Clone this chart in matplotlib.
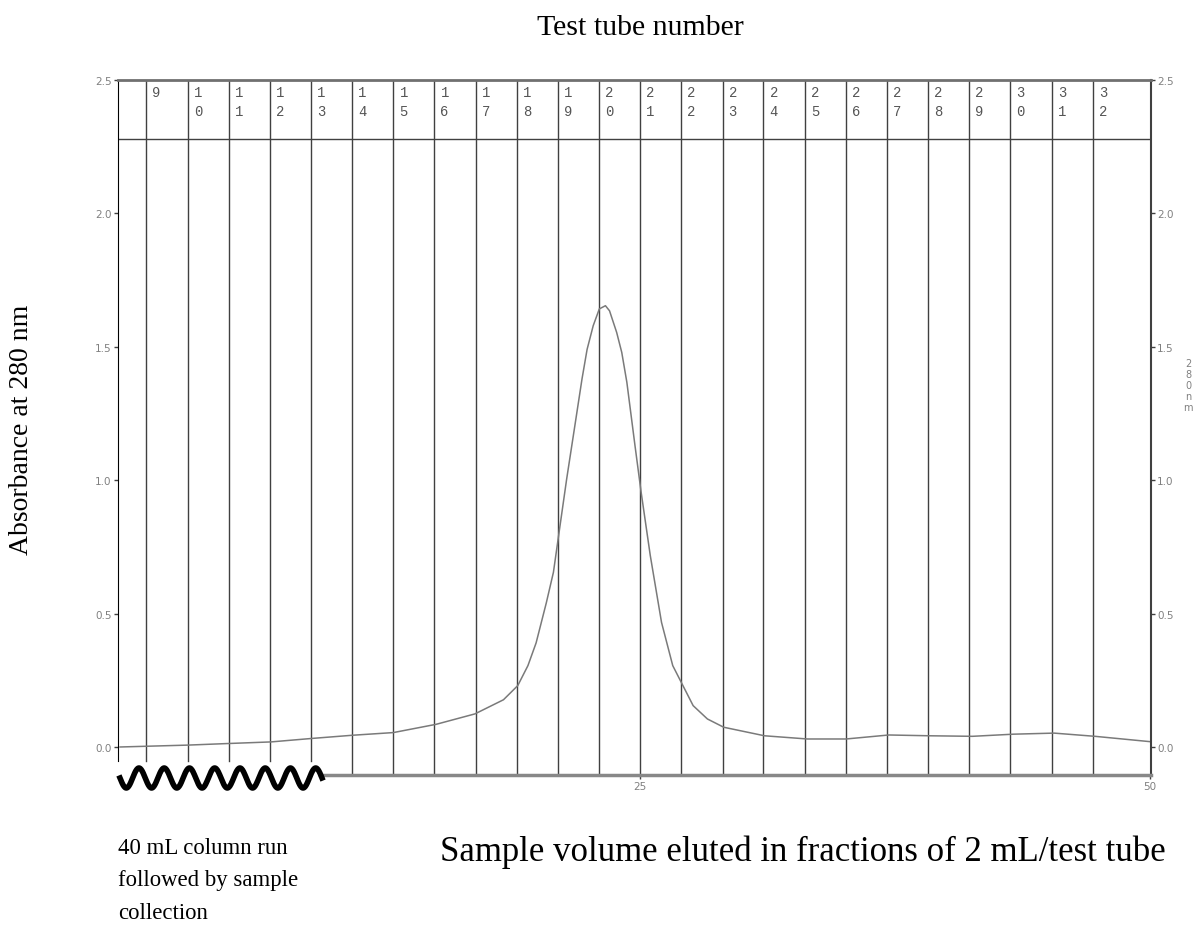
import numpy as np
import matplotlib
matplotlib.use("Agg")
from matplotlib import pyplot as plt

# elution volume (mL) and absorbance at 280 nm
vol = [-0.5, 2.8, 4.8, 6.9, 8.9, 10.9, 12.9, 15.0, 16.9, 18.3, 19.0, 19.5, 19.9,
       20.4, 20.75, 21.05, 21.4, 21.8, 22.15, 22.4, 22.7, 23.0, 23.3, 23.5,
       23.85, 24.1, 24.35, 24.75, 25.05, 25.5, 26.05, 26.6, 27.1, 27.6, 28.3,
       29.1, 31.1, 33.2, 35.1, 37.2, 39.2, 41.3, 43.3, 45.3, 47.3, 50.0]
a280 = [0.0, 0.007, 0.013, 0.019, 0.032, 0.044, 0.054, 0.085, 0.124, 0.177,
        0.23, 0.305, 0.39, 0.54, 0.655, 0.817, 1.005, 1.204, 1.379, 1.49, 1.579,
        1.642, 1.654, 1.635, 1.554, 1.479, 1.367, 1.129, 0.955, 0.717, 0.467,
        0.305, 0.23, 0.155, 0.105, 0.074, 0.042, 0.030, 0.030, 0.045, 0.042,
        0.040, 0.048, 0.052, 0.040, 0.020]

# start volume of each test tube, and tube numbers
tube_start = [0.79, 2.81, 4.83, 6.84, 8.86, 10.88, 12.90, 14.91, 16.93, 18.95,
              20.97, 22.98, 25.00, 27.02, 29.04, 31.05, 33.07, 35.09, 37.11,
              39.12, 41.14, 43.16, 45.18, 47.19]
tube_num = list(range(9, 33))

serif = "Liberation Serif"
grey = "#404040"

fig = plt.figure(figsize=(11.94, 9.28), dpi=100)
ax = fig.add_axes([118/1194, 1-776/928, (1151-118)/1194, (776-81)/928])
ax.set_xlim(-0.6, 50.05)
ax.set_ylim(-0.105, 2.5)

# fraction dividers
for x in tube_start:
    lo = -0.054 if x < 9.3 else -0.105
    ax.plot([x, x], [lo, 2.5], color=grey, lw=1, zorder=1)
ax.axhline(2.279, color=grey, lw=1, zorder=1)

for x, n in zip(tube_start, tube_num):
    ax.text(x + 0.3, 2.482, "\n".join(str(n)), fontsize=10, family="Liberation Mono",
            color="#555555", va="top", ha="left", linespacing=1.45)

ax.plot(vol, a280, color="#7a7a7a", lw=1.1, zorder=2)

ax.set_yticks([0.0, 0.5, 1.0, 1.5, 2.0, 2.5])
ax.set_yticklabels(["0.0", "0.5", "1.0", "1.5", "2.0", "2.5"])
ax.set_xticks([25, 50])
ax.tick_params(axis="both", labelsize=7.5, labelcolor="#808080", length=3, width=1,
               color=grey, pad=1.5)
ax.tick_params(axis="y", right=True, labelright=True)

ax.spines["top"].set_color("#707070")
ax.spines["top"].set_linewidth(2)
ax.spines["left"].set_color("black")
ax.spines["left"].set_bounds(-0.054, 2.5)
ax.spines["right"].set_color(grey)
ax.spines["right"].set_linewidth(1.5)
ax.spines["bottom"].set_bounds(9.3, 50.05)
ax.spines["bottom"].set_color("#888888")
ax.spines["bottom"].set_linewidth(2.5)

# squiggle standing in for the 40 mL column run
wx = np.linspace(120, 322, 400)
wy = 779 + 10 * np.sin(2 * np.pi * (wx - 120) / 25.25)
fig.add_artist(plt.Line2D(wx / 1194, 1 - wy / 928, color="black", lw=4,
                          transform=fig.transFigure))

fig.text(1188/1194, 1-386/928, "2\n8\n0\nn\nm", fontsize=7, color="#808080",
         ha="center", va="center", linespacing=1.15)

fig.text(640/1194, 1-28/928, "Test tube number", family=serif, fontsize=21.5,
         ha="center", va="center")
fig.text(22/1194, 1-430/928, "Absorbance at 280 nm", family=serif, fontsize=20,
         ha="center", va="center", rotation=90)
fig.text(803/1194, 1-852/928, "Sample volume eluted in fractions of 2 mL/test tube",
         family=serif, fontsize=25, ha="center", va="center")
fig.text(118/1194, 1-881/928, "40 mL column run\nfollowed by sample\ncollection",
         family=serif, fontsize=16.4, ha="left", va="center", linespacing=1.72)

fig.savefig("out.png", dpi=100)
